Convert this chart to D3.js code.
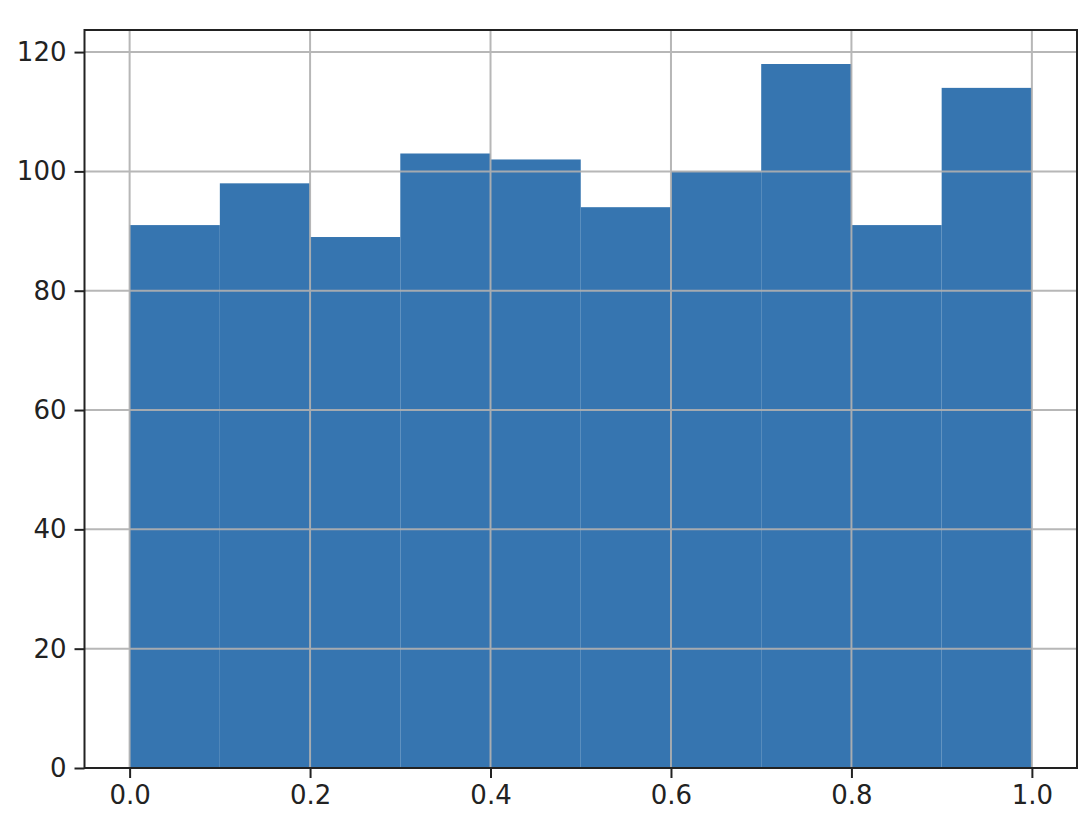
<!DOCTYPE html>
<html><head><meta charset="utf-8">
<script src="https://cdn.jsdelivr.net/npm/d3@7"></script>
<style>body{margin:0;background:#fff}svg{display:block}</style>
</head><body>
<svg id="c" width="1092" height="826"></svg>
<script>
const binEdges = [0.0,0.1,0.2,0.3,0.4,0.5,0.6,0.7,0.8,0.9,1.0];
const counts = [91,98,89,103,102,94,100,118,91,114];
const xTicks = [0.0,0.2,0.4,0.6,0.8,1.0];
const yTicks = [0,20,40,60,80,100,120];

const svg = d3.select("#c");
const L=84.5, R=1077, T=30, B=768;
const x = d3.scaleLinear().domain([-0.05,1.05]).range([L,R]);
const y = d3.scaleLinear().domain([0,123.7]).range([B,T]);
const font = "DejaVu Sans, sans-serif";
const bins = counts.map((c,i)=>({x0:binEdges[i],x1:binEdges[i+1],c}));

svg.append("g").selectAll("rect").data(bins).join("rect")
  .attr("x",d=>x(d.x0)).attr("width",d=>x(d.x1)-x(d.x0))
  .attr("y",d=>y(d.c)).attr("height",d=>y(0)-y(d.c))
  .attr("fill","#3675b0");

// grid
const grid = svg.append("g").attr("stroke","#b0b0b0").attr("stroke-width",2).attr("opacity",0.9);
grid.selectAll("line.v").data(xTicks).join("line").attr("class","v")
  .attr("x1",d=>x(d)).attr("x2",d=>x(d)).attr("y1",T).attr("y2",B);
grid.selectAll("line.h").data(yTicks).join("line").attr("class","h")
  .attr("x1",L).attr("x2",R).attr("y1",d=>y(d)).attr("y2",d=>y(d));

const xAxis = d3.axisBottom(x).tickValues(xTicks).tickFormat(d3.format(".1f")).tickSizeOuter(0).tickSize(10).tickPadding(8);
const yAxis = d3.axisLeft(y).tickValues(yTicks).tickFormat(d3.format("d")).tickSizeOuter(0).tickSize(10).tickPadding(8);
const gx = svg.append("g").attr("transform",`translate(0,${B})`).call(xAxis);
const gy = svg.append("g").attr("transform",`translate(${L},0)`).call(yAxis);
[gx,gy].forEach(g=>{
  g.select(".domain").remove();
  g.selectAll(".tick line").attr("stroke","#222").attr("stroke-width",2);
  g.selectAll(".tick text").attr("fill","#222").style("font-family",font).style("font-size","26px");
});

svg.append("rect").attr("x",L).attr("y",T).attr("width",R-L).attr("height",B-T)
  .attr("fill","none").attr("stroke","#222").attr("stroke-width",2);
</script>
</body></html>
